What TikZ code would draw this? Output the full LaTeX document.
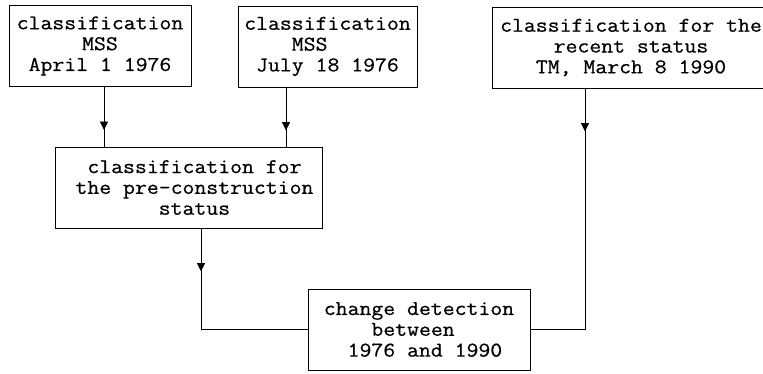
\documentclass[tikz,border=0pt]{standalone}
\usepackage{fontspec}
\setmonofont[FakeStretch=1.1, FakeBold=0.6]{Latin Modern Mono}
\usetikzlibrary{arrows.meta, positioning, calc, decorations.markings}
\newcommand{\tsp}{\hphantom{0}}

\begin{document}
\begin{tikzpicture}[
		x=1pt, y=-1pt,
		font=\ttfamily\fontsize{21}{20.8}\selectfont,
		% Box styles
		stepbox/.style={draw=black, line width=1pt, align=center, inner sep=0pt, minimum height=81pt},
		% Connector styles
		flowline/.style={line width=0.9pt, postaction={decorate}, decoration={markings, mark=at position 43pt with {\arrow{Triangle[length=8.5pt, width=8pt]}}}}
		]
		\useasboundingbox (0,0) rectangle (763,373);
		
		% --- TOP ROW: INPUT CLASSIFICATIONS ---
		\node[stepbox, minimum width=182pt] (clsApr) at (100,46) {classification\\MSS\\April 1 1976};
		\node[stepbox, minimum width=179pt] (clsJul) at (327.5,46.5) {classification\\MSS\tsp\tsp\tsp\\July 18 1976};
		\node[stepbox, minimum width=278pt] (clsRec) at (631,47.5) {classification for the\\recent status\\TM, March 8 1990};
		
		% --- MIDDLE: PRE-CONSTRUCTION ---
		\node[stepbox, minimum width=267pt] (clsPre) at (188.5,187.5) {\tsp classification for\\\tsp the pre-construction\\\tsp status};
		
		% --- BOTTOM: CHANGE DETECTION ---
		\node[stepbox, minimum width=222pt] (change) at (419,329.5) {change detection\\between\tsp\\\tsp 1976 and 1990};
		
		% Connector start points
		\coordinate (outApr) at ($(clsApr.south) + (4,0)$);
		\coordinate (outJul) at ($(clsJul.south) + (-41.5,0)$);
		\coordinate (outRec) at ($(clsRec.south) + (-46,0)$);
		\coordinate (outPre) at ($(clsPre.south) + (12.5,0)$);
		
		\draw[flowline] (outApr) -- (outApr |- clsPre.north);
		\draw[flowline] (outJul) -- (outJul |- clsPre.north);
		\draw[flowline] (outPre) |- (change.west);
		\draw[flowline] (outRec) |- (change.east);
		
	\end{tikzpicture}
\end{document}
